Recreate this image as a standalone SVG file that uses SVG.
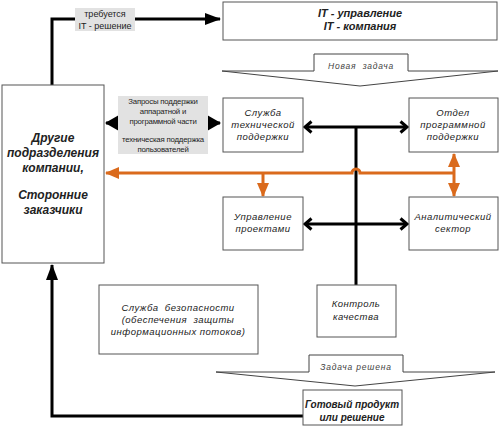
<svg xmlns="http://www.w3.org/2000/svg" width="500" height="437" viewBox="0 0 500 437">
<style>
.box{fill:#fff;stroke:#555;stroke-width:1}
.lbl{fill:#e2e2e2;stroke:none}
.chev{fill:#fff;stroke:#444;stroke-width:1}
text{font-family:"Liberation Sans",Arial,sans-serif;text-anchor:middle;fill:#222}
.t{font-size:9.5px;font-style:italic;letter-spacing:0.5px}
.b{font-size:12px;font-style:italic;font-weight:bold}
.h{font-size:11px;font-style:italic;font-weight:bold}
.g{font-size:10px;font-style:italic;font-weight:bold}
.s{font-size:7.8px;letter-spacing:-0.2px}
.r{font-size:9px}
.c{font-size:8.5px;font-style:italic;fill:#444;letter-spacing:0.8px}
.blk{fill:none;stroke:#000;stroke-width:3}
.org{fill:none;stroke:#DA6A1C;stroke-width:3}
</style>
<defs>
<marker id="tri" markerUnits="userSpaceOnUse" viewBox="0 0 16 12" markerWidth="16" markerHeight="12" refX="15" refY="6" orient="auto-start-reverse"><path d="M0,0 L16,6 L0,12 z" fill="#000"/></marker>
<marker id="triBig" markerUnits="userSpaceOnUse" viewBox="0 0 14 16" markerWidth="14" markerHeight="16" refX="13" refY="8" orient="auto-start-reverse"><path d="M0,0 L14,8 L0,16 z" fill="#000"/></marker>
<marker id="open" markerUnits="userSpaceOnUse" viewBox="0 0 10 14" markerWidth="10" markerHeight="14" refX="8" refY="7" orient="auto-start-reverse"><path d="M1.5,1.5 L8,7 L1.5,12.5" fill="none" stroke="#000" stroke-width="3"/></marker>
<marker id="otri" markerUnits="userSpaceOnUse" viewBox="0 0 14 12" markerWidth="14" markerHeight="12" refX="13" refY="6" orient="auto-start-reverse"><path d="M0,0 L14,6 L0,12 z" fill="#DA6A1C"/></marker>
</defs>

<g id="connectors">
<path class="blk" d="M52,86 V19 H220" marker-end="url(#tri)"/>
<path class="blk" d="M303,416 H52 V265" marker-end="url(#tri)"/>
<path class="blk" d="M106,123 H220" marker-start="url(#triBig)" marker-end="url(#triBig)"/>
<path class="blk" d="M356,127 V285"/>
<path class="blk" d="M305,127 H407" marker-start="url(#open)" marker-end="url(#open)"/>
<path class="blk" d="M305,224 H407" marker-start="url(#open)" marker-end="url(#open)"/>
<path class="org" d="M106,173 H352 A4,4 0 0 1 360,173 H454" marker-start="url(#otri)"/>
<path class="org" d="M263,173 V196" marker-end="url(#otri)"/>
<path class="org" d="M454,154 V196" marker-start="url(#otri)" marker-end="url(#otri)"/>
</g>

<g id="label-required">
<rect class="lbl" x="75" y="8" width="60" height="23"/>
<text class="r" x="105" y="17">требуется</text>
<text class="r" x="105" y="29">IT - решение</text>
</g>

<g id="node-it">
<rect class="box" x="223" y="2" width="274" height="38"/>
<text class="h" x="360" y="17">IT - управление</text>
<text class="h" x="360" y="30">IT - компания</text>
</g>

<g id="chevron-new">
<polygon class="chev" points="222,71 314,71 314,54 408,54 408,71 498,71 360,86"/>
<text class="c" x="361" y="69" xml:space="preserve">Новая  задача</text>
</g>

<g id="node-clients">
<rect class="box" x="2" y="85" width="102" height="178"/>
<text class="b" x="53" y="142">Другие</text>
<text class="b" x="53" y="157">подразделения</text>
<text class="b" x="53" y="172">компании,</text>
<text class="b" x="53" y="199">Сторонние</text>
<text class="b" x="53" y="214">заказчики</text>
</g>

<g id="label-requests">
<rect class="lbl" x="118" y="96" width="90" height="58"/>
<text class="s" x="163" y="104">Запросы поддержки</text>
<text class="s" x="163" y="114">аппаратной и</text>
<text class="s" x="163" y="124">программной части</text>
<text class="s" x="163" y="142">техническая поддержка</text>
<text class="s" x="163" y="152">пользователей</text>
</g>

<g id="node-support">
<rect class="box" x="223" y="98" width="80" height="54"/>
<text class="t" x="263" y="116">Служба</text>
<text class="t" x="263" y="128">технической</text>
<text class="t" x="263" y="140">поддержки</text>
</g>

<g id="node-software">
<rect class="box" x="409" y="98" width="89" height="54"/>
<text class="t" x="453" y="116">Отдел</text>
<text class="t" x="453" y="128">программной</text>
<text class="t" x="453" y="140">поддержки</text>
</g>

<g id="node-projects">
<rect class="box" x="223" y="197" width="80" height="53"/>
<text class="t" x="263" y="220">Управление</text>
<text class="t" x="263" y="232">проектами</text>
</g>

<g id="node-analytics">
<rect class="box" x="409" y="197" width="89" height="53"/>
<text class="t" x="453" y="220">Аналитический</text>
<text class="t" x="453" y="232">сектор</text>
</g>

<g id="node-security">
<rect class="box" x="99" y="285" width="159" height="69"/>
<text class="t" x="178" y="311" xml:space="preserve">Служба  безопасности</text>
<text class="t" x="178" y="323" xml:space="preserve">(обеспечения  защиты</text>
<text class="t" x="178" y="335">информационных потоков)</text>
</g>

<g id="node-quality">
<rect class="box" x="317" y="285" width="79" height="52"/>
<text class="t" x="356" y="307">Контроль</text>
<text class="t" x="356" y="320">качества</text>
</g>

<g id="chevron-done">
<polygon class="chev" points="216,372 309,372 309,355 403,355 403,372 495,372 355,386"/>
<text class="c" x="356" y="370">Задача решена</text>
</g>

<g id="node-product">
<rect class="box" x="303" y="390" width="99" height="35"/>
<text class="g" x="352" y="408">Готовый продукт</text>
<text class="g" x="352" y="421">или решение</text>
</g>
</svg>
